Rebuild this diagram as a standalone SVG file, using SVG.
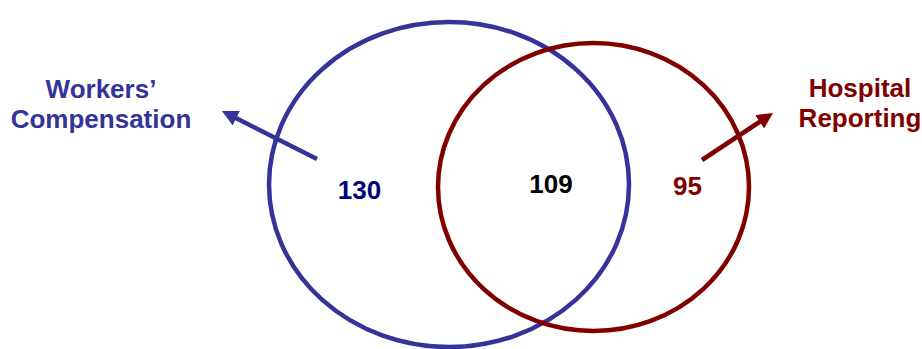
<svg xmlns="http://www.w3.org/2000/svg" width="922" height="349" viewBox="0 0 922 349">
<style>
text{font-family:"Liberation Sans",Arial,sans-serif;font-weight:bold;font-size:26px;text-anchor:middle}
.blue{fill:#333399}
.red{fill:#800000}
.ring{fill:none;stroke-width:4.5}
</style>
<defs>
<marker id="ab" markerUnits="userSpaceOnUse" viewBox="0 0 16 16" markerWidth="16" markerHeight="16" refX="6" refY="8" orient="auto">
<path d="M0,0 L16,8 L0,16 z" fill="#333399"/>
</marker>
<marker id="ar" markerUnits="userSpaceOnUse" viewBox="0 0 16 16" markerWidth="16" markerHeight="16" refX="6" refY="8" orient="auto">
<path d="M0,0 L16,8 L0,16 z" fill="#800000"/>
</marker>
</defs>
<rect width="922" height="349" fill="#ffffff"/>
<g id="workers-comp">
<ellipse class="ring" cx="449" cy="184.5" rx="180" ry="162.5" stroke="#333399"/>
<text class="blue" x="101" y="98">Workers’</text>
<text class="blue" x="101" y="128">Compensation</text>
<text x="359.5" y="199" fill="#000080">130</text>
</g>
<g id="hospital-reporting">
<ellipse class="ring" cx="593.5" cy="187" rx="155.5" ry="144" stroke="#800000"/>
<text class="red" x="860" y="97">Hospital</text>
<text class="red" x="860" y="127">Reporting</text>
<text class="red" x="687.5" y="195">95</text>
</g>
<g id="overlap">
<text x="551" y="193" fill="#000000">109</text>
</g>
<g id="connectors">
<line x1="317" y1="159" x2="230.9" y2="115.5" stroke="#333399" stroke-width="4.5" marker-end="url(#ab)"/>
<line x1="702" y1="160" x2="764.7" y2="118.5" stroke="#800000" stroke-width="4.5" marker-end="url(#ar)"/>
</g>
</svg>
